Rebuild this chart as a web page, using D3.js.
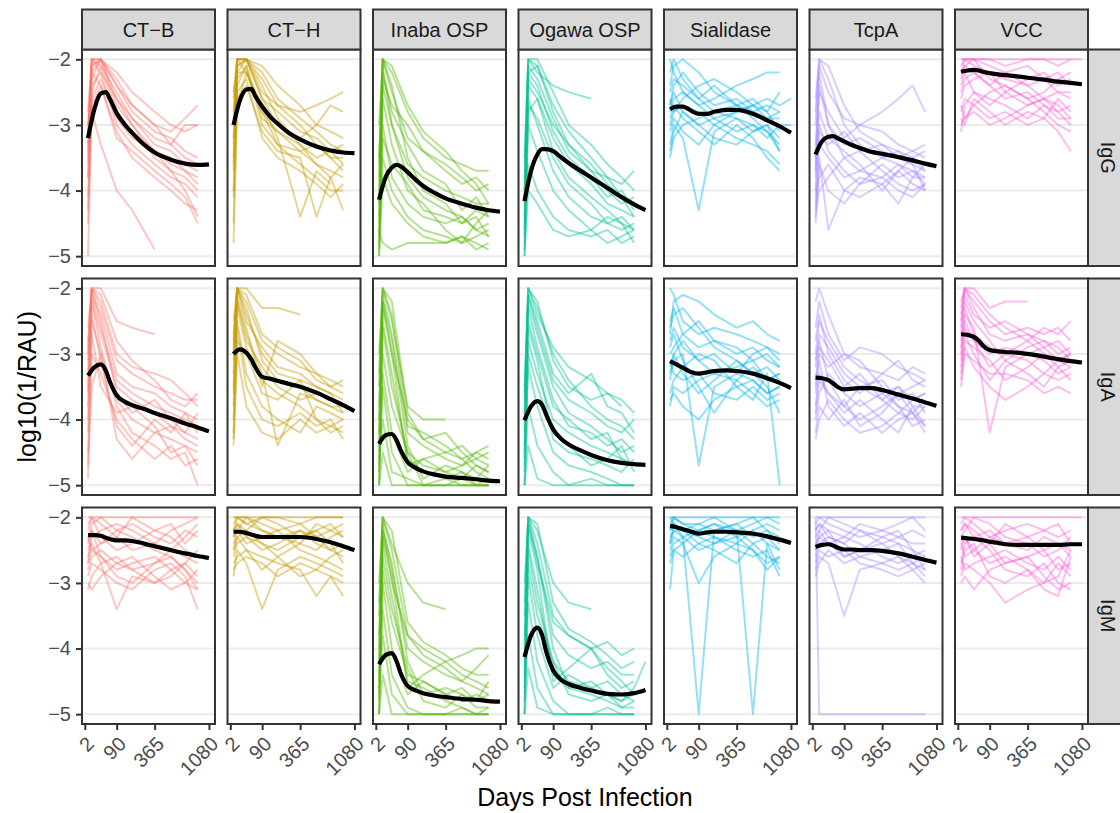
<!DOCTYPE html>
<html>
<head>
<meta charset="utf-8">
<script src="https://cdn.jsdelivr.net/npm/d3@7"></script>
<style>
  html, body { margin: 0; padding: 0; background: #fff; }
  svg { display: block; font-family: "Liberation Sans", Arial, Helvetica, sans-serif; }
</style>
</head>
<body>
<div id="chart"></div>
<script>
const ANTIGENS = ["CT\u2212B", "CT\u2212H", "Inaba OSP", "Ogawa OSP", "Sialidase", "TcpA", "VCC"];
const ISOTYPES = ["IgG", "IgA", "IgM"];
const COLORS = ["#F8766D", "#C49A00", "#53B400", "#00C094", "#00B6EB", "#A58AFF", "#FB61D7"];
const LINE_DAYS = [5, 10, 30, 90, 180, 365, 540, 720, 900, 1080];
const SMOOTH_DAYS = [5, 15, 30, 45, 60, 90, 135, 180, 270, 365, 540, 720, 900, 1080];
const X_BREAKS = [2, 90, 365, 1080];
const Y_BREAKS = [-2, -3, -4, -5];

// individual trajectories: one row per participant, visits at LINE_DAYS
// values stored as -10 * log10(1/RAU), 0 = missing visit
const iggCTB = [[32,22,20,24,27,30,31,29,27],[38,23,20,26,29,32,33,30,30],[45,25,21,28,31,34,35,37,38],[30,20,20,23,27,30,33,35,36],[41,24,22,30,33,36,38,39,41],[35,21,20,27,30,35,37,40,44],[50,26,23,29,32,34,36,37,39],[33,20,21,25,29,33,34,36,37],[38,28,33,40,43,49],[28,20,22,26,30,34,37,38,40],[36,22,24,31,35,38,40,42,43],[31,21,20,24,28,31,32,34,35],[43,27,24,32,34,37,39,41,45],[34,20,20,22,25,28,30,31,30]];
const iggCTH = [[30,20,20,25,27,28,27,26,25],[35,22,20,26,30,32,30,27,28],[48,27,22,28,31,33,35,34,33],[25,20,20,22,26,29,31,33,34],[40,24,21,30,33,36,38,40,40],[32,20,22,27,32,44,37,39],[28,20,20,24,29,33,36,38,43],[41,26,24,31,34,35,44,38,36],[33,21,20,23,27,30,33,35,37],[37,23,21,29,31,34,33,35,35],[26,20,20,21,24,27,30,31,32],[45,25,23,32,35,37,39,41,39],[30,21,20,26,28,31,32,34,36],[36,22,22,28,33,34,36,37,38]];
const iggInaba = [[35,20,22,28,32,35,36,37,37],[45,20,25,32,34,36,38,40,39],[50,24,30,36,38,40,41,42,42],[40,22,28,33,37,39,43,41,44],[48,30,38,42,44,45,44,46,45],[30,20,24,35,40,42,45,44,47],[50,38,42,45,47,48,47,49,48],[42,26,33,40,42,46,48,45,43],[46,48,49,48,48,48,47,48,49],[38,21,30,38,41,43,44,46,47],[49,35,40,44,46,47,48,47,46],[44,23,27,30,34,37,39,38,40],[47,32,36,39,43,44,45,43,44],[36,20,21,27,31,34,37,39,42]];
const iggOgawa = [[40,20,20,25,30,33,36,38,40],[48,22,21,28,33,36,39,41,42],[50,28,26,34,38,41,43,45,46],[35,20,22,24,25,26],[45,26,30,37,41,44,45,44,46],[42,24,26,32,36,39,42,43,44],[50,36,40,44,46,47,46,48,47],[38,21,23,29,34,37,40,42,41],[47,30,34,40,43,46,44,45,48],[44,22,24,31,35,38,41,40,43],[49,40,42,46,47,46,48,47,46],[36,20,21,27,31,35,38,39,37],[46,27,29,35,39,42,45,46,45],[41,23,25,30,33,37,38,41,44]];
const iggSialidase = [[20,22,25,27,26,24,23,22,22],[27,25,28,30,29,28,27,26,27,26],[30,28,27,28,30,32,33,34,36],[24,21,20,22,25,27,26,28,25],[33,30,32,43,31,29,30,31,33],[28,26,25,27,29,31,30,32,30,30],[35,32,30,29,28,27,29,31,34],[22,20,23,26,24,27,28,29,29],[29,27,29,31,33,30,32,35,37],[26,28,26,24,23,25,27,28,31],[31,29,31,33,30,28,27,29,28],[25,23,24,26,28,29,31,30,32],[34,31,28,30,32,33,31,30,34],[27,24,22,25,27,26,28,27,28]];
const iggTcpA = [[30,20,23,30,33,35,36,37,38],[38,22,30,33,32,34,35,36,37],[45,35,46,40,38,39,37,39,40],[26,20,21,27,31,33,34,35,34],[40,30,34,37,39,36,38,37,39],[35,25,28,32,30,28,26,24,28],[42,38,36,40,41,39,42,38,38],[33,24,30,35,37,38,36,38,36],[44,40,38,35,34,37,39,40,39],[36,28,32,34,36,40,37,35,37],[28,21,25,29,30,31,33,34,35],[41,33,35,38,37,35,34,36,40],[37,31,33,31,34,33,35,34,33],[43,36,40,42,39,38,40,41,39]];
const iggVCC = [[20,20,20,20,20,20,20,20,20,20],[22,20,21,22,23,24,23,25,26],[25,23,22,24,26,25,27,28,27],[28,26,27,25,24,26,28,30,31],[30,29,27,29,28,30,29,31,34],[21,20,20,21,22,21,23,22,24],[24,22,25,27,25,23,22,24,23],[27,29,28,30,29,27,26,27,29],[23,21,20,23,24,26,25,23,22],[29,30,26,28,30,28,29,26,28],[20,20,20,20,21,20,20,21,20],[26,24,23,22,25,27,26,28,30],[22,21,22,24,22,24,26,25,25],[31,27,25,26,27,29,27,29,29]];

const igaCTB = [[30,20,20,25,26,27],[35,21,26,34,36,38,39,40,41],[49,25,30,37,40,42,43,44,47],[28,20,23,31,33,35,36,37,37],[40,22,29,38,42,44,46,45,50],[33,20,25,36,39,37,40,42,43],[45,30,33,40,43,46,44,47,46],[26,20,22,30,32,33,34,36,38],[38,24,31,41,44,40,42,39,42],[42,27,35,39,38,41,45,44,45],[31,21,24,33,35,36,38,39,40],[47,35,30,43,46,42,41,43,44],[36,22,27,35,37,39,41,42,39],[29,20,21,28,31,34,37,38,36]];
const igaCTH = [[25,20,20,23,23,24],[30,20,24,30,33,34,35,36,37],[38,22,27,33,44,36,37,38,39],[43,28,30,36,37,34,40,41,42],[27,20,22,28,30,32,33,34,35],[33,21,26,35,28,30,33,35,36],[40,25,33,38,40,42,38,39,40],[29,20,23,31,34,35,37,38,38],[36,23,29,34,36,38,40,42,41],[42,26,35,40,41,39,41,40,43],[31,20,21,27,29,31,34,35,34],[35,22,28,32,35,37,36,37,38],[44,30,38,42,43,40,42,41,40],[28,20,25,29,32,33,35,36,39]];
const igaInaba = [[30,20,25,38,40,40],[45,22,30,40,43,45,46,45,44],[50,30,38,45,47,48,49,47,48],[40,21,27,42,44,46,47,46,47],[48,35,45,50,50,50,49,50,50],[50,25,33,46,48,49,50,50,50],[35,20,24,41,42,44,46,48,49],[46,40,48,49,50,50,50,50,50],[42,23,30,47,46,45,44,46,45],[50,45,50,50,50,50,50,50,50],[38,22,28,44,49,47,48,49,47],[47,33,42,48,46,48,47,45,46],[44,26,35,45,50,49,48,50,49],[33,20,22,39,43,42,45,47,48]];
const igaOgawa = [[35,20,24,29,32,34,36,37,39],[45,21,26,34,37,39,41,42,40],[50,28,33,40,42,44,45,46,47],[40,20,22,31,35,37,36,38],[48,32,38,45,47,48,49,50,50],[42,23,29,37,41,42,44,43,45],[50,38,44,48,50,50,50,50,50],[37,21,25,33,36,33,38,39,42],[46,26,31,43,45,46,47,48,46],[50,44,49,50,50,49,50,50,50],[39,22,27,35,39,41,43,45,44],[47,30,35,42,44,47,46,44,48],[44,25,30,38,40,43,42,46,47],[36,20,23,30,34,38,40,41,43]];
const igaSialidase = [[20,21,25,27,26,27,28,29,30],[28,26,29,31,33,32,31,34,33],[33,31,30,47,35,33,34,36,35],[25,23,27,29,28,30,29,31,32],[36,34,32,30,31,35,37,33,50],[30,29,27,25,28,29,31,30,32],[38,35,36,34,33,34,36,38,37],[27,22,21,22,24,26,25,27,28],[31,33,34,33,36,37,35,37,36],[34,30,33,36,34,31,33,35,39],[29,27,31,35,39,34,32,34,33],[26,24,23,26,29,31,33,32,34],[32,30,28,31,30,33,30,29,31],[37,36,38,40,37,35,34,36,35]];
const igaTcpA = [[22,20,24,30,32,33,31,34,35],[30,25,28,32,34,36,35,37,36],[38,33,36,39,37,40,42,38,41],[26,22,27,31,29,30,32,33,34],[42,38,40,37,41,39,36,39,42],[34,29,31,35,33,37,39,40,38],[40,36,33,36,38,36,38,41,40],[28,24,30,34,36,33,34,32,33],[36,31,38,41,39,42,40,39,37],[32,27,29,33,35,34,37,36,39],[43,40,37,40,42,41,39,37,36],[31,28,34,38,40,38,36,35,34],[35,30,32,30,31,35,38,39,41],[39,34,36,38,35,37,35,38,38]];
const igaVCC = [[22,20,20,23,22,22],[26,20,23,27,28,27,29,28,30],[30,24,26,42,32,30,31,33,32],[25,21,24,26,25,27,28,29,31],[33,28,29,31,34,32,30,32,34],[28,23,27,29,30,31,33,34,33],[35,30,31,33,33,34,36,35,36],[24,20,22,25,27,26,27,26,28],[29,26,28,30,29,30,29,31,30],[32,27,30,34,31,33,35,32,31],[27,22,25,28,31,29,28,30,29],[31,25,28,32,30,28,26,27,25],[23,20,21,24,26,28,30,31,32],[34,29,32,35,37,35,33,31,30]];

const igmCTB = [[20,20,20,20,20,20,20,20,20],[23,22,24,22,23,25,26,28,30],[27,25,26,28,27,26,28,27,29],[31,29,27,34,29,30,28,30,31],[22,20,21,23,25,24,22,21,20],[25,23,22,21,22,24,25,26,27],[29,27,28,30,31,28,27,29,34],[21,20,23,25,24,22,23,25,26],[26,24,27,26,28,30,29,27,25],[24,21,20,22,21,23,24,22,23],[28,26,25,27,26,29,31,30,28],[30,31,29,27,28,27,26,28,31],[23,25,24,23,20,22,21,24,22],[27,22,26,29,30,27,25,23,21]];
const igmCTH = [[20,20,20,20,20,20,20,20,20],[22,20,21,22,23,22,24,25,26],[25,23,22,24,25,23,22,24,27],[29,25,27,34,28,26,27,28,29],[21,20,20,21,22,21,23,22,21],[24,22,24,23,22,25,26,27,28],[27,26,25,26,27,28,32,29,30],[23,21,22,20,21,23,22,21,23],[26,24,23,25,24,22,23,25,24],[22,21,23,24,26,24,25,23,22],[28,27,26,27,29,27,28,29,32],[20,20,21,20,20,21,20,20,20],[25,23,25,28,26,29,28,26,25],[23,22,20,22,23,24,21,22,23]];
const igmInaba = [[30,20,24,30,33,34],[45,22,30,38,40,42,41,40,40],[50,28,36,44,45,47,46,48,47],[40,21,28,40,42,44,45,43,41],[48,34,44,49,50,50,49,50,50],[50,24,32,45,46,48,49,50,49],[35,20,25,38,41,43,45,46,47],[46,38,47,50,50,50,50,50,50],[42,23,29,46,44,42,44,45,46],[50,44,50,50,50,50,50,50,50],[38,22,27,42,47,46,47,48,45],[47,30,40,47,45,47,48,47,48],[44,26,34,43,48,49,47,49,49],[33,20,22,36,39,41,43,44,44]];
const igmOgawa = [[30,20,22,30,33,34],[45,21,27,36,38,40,39,41,40],[50,27,35,42,45,46,47,48,46,42],[40,20,26,38,41,43,42,44,44],[48,33,42,48,50,50,49,50,50],[50,24,31,44,46,47,48,49,49],[35,20,24,35,38,40,43,45,47],[46,38,46,50,50,50,50,50,50],[42,22,28,45,43,40,44,46,45],[50,43,49,50,50,50,50,50,50],[38,21,26,40,46,45,47,48,47],[47,29,38,46,44,46,45,47,48],[44,25,33,42,47,48,47,49,48],[33,20,21,33,37,39,41,43,42]];
const igmSialidase = [[20,20,20,20,20,20,20,20,20],[22,21,23,22,21,23,22,24,25],[24,22,23,50,22,21,23,22,24],[26,24,23,25,24,22,50,24,28],[21,20,21,22,23,24,22,21,22],[31,25,24,30,26,24,25,27,26],[23,22,22,24,23,25,26,25,29],[25,23,24,22,21,22,24,26,27],[22,20,21,21,22,21,20,22,23],[27,25,26,24,25,27,24,23,25],[24,21,22,23,24,23,25,28,26],[20,21,22,21,20,22,21,20,21]];
const igmTcpA = [[20,20,20,20,20,20,20,20,20],[22,21,23,24,22,23,24,25,26],[25,23,22,26,25,24,26,27,28],[28,26,27,35,28,27,26,28,30],[21,20,21,22,23,22,21,20,22],[24,23,24,23,24,26,27,26,25],[27,25,26,25,27,28,29,28,27],[23,22,20,21,22,24,23,22,23],[26,24,23,24,26,25,24,27,29],[20,50,50,50,50,50,50,50,50],[29,27,25,27,26,27,28,27,26],[22,21,22,23,21,22,23,24,24],[25,22,24,26,25,23,22,25,28]];
const igmVCC = [[20,20,20,20,20,20,20,20,20,20],[22,21,23,22,24,23,25,24,26],[25,23,26,24,27,26,25,28,27],[29,27,28,30,33,31,30,29,25],[21,20,21,23,22,21,22,23,22],[24,26,25,27,26,28,30,27,29],[27,24,23,25,28,29,27,30,31],[23,22,20,21,23,24,26,25,23],[26,28,27,26,25,27,28,26,28],[30,29,31,28,27,26,29,31,30],[22,21,22,24,21,23,22,21,24],[28,25,24,29,30,28,31,32,26],[24,23,25,23,24,25,23,24,25]];

// loess fits at SMOOTH_DAYS, one row per antigen (same order as ANTIGENS)
const smoothIgG = [
  [-3.2,-2.75,-2.52,-2.5,-2.6,-2.82,-3.0,-3.12,-3.3,-3.42,-3.53,-3.59,-3.61,-3.6],
  [-3.0,-2.62,-2.46,-2.45,-2.56,-2.72,-2.88,-2.98,-3.13,-3.22,-3.33,-3.39,-3.42,-3.43],
  [-4.14,-3.8,-3.65,-3.61,-3.63,-3.72,-3.84,-3.93,-4.04,-4.12,-4.2,-4.26,-4.3,-4.32],
  [-4.16,-3.7,-3.45,-3.37,-3.37,-3.4,-3.5,-3.58,-3.7,-3.8,-3.96,-4.1,-4.21,-4.3],
  [-2.76,-2.72,-2.72,-2.75,-2.79,-2.83,-2.83,-2.8,-2.77,-2.77,-2.83,-2.93,-3.02,-3.12],
  [-3.45,-3.25,-3.18,-3.17,-3.2,-3.25,-3.31,-3.35,-3.41,-3.44,-3.49,-3.54,-3.59,-3.63],
  [-2.19,-2.17,-2.16,-2.17,-2.19,-2.21,-2.23,-2.24,-2.26,-2.28,-2.31,-2.34,-2.36,-2.38]
];
const smoothIgA = [
  [-3.33,-3.2,-3.16,-3.25,-3.42,-3.63,-3.73,-3.78,-3.84,-3.9,-3.98,-4.06,-4.12,-4.18],
  [-3.0,-2.93,-2.98,-3.08,-3.2,-3.35,-3.38,-3.41,-3.46,-3.5,-3.59,-3.69,-3.78,-3.87],
  [-4.37,-4.24,-4.22,-4.32,-4.47,-4.65,-4.74,-4.79,-4.84,-4.87,-4.89,-4.91,-4.93,-4.94],
  [-4.01,-3.8,-3.72,-3.78,-3.93,-4.15,-4.3,-4.38,-4.47,-4.54,-4.62,-4.66,-4.68,-4.69],
  [-3.11,-3.16,-3.21,-3.25,-3.28,-3.3,-3.28,-3.26,-3.25,-3.26,-3.3,-3.37,-3.44,-3.52],
  [-3.36,-3.37,-3.4,-3.45,-3.5,-3.54,-3.53,-3.52,-3.52,-3.55,-3.62,-3.68,-3.74,-3.79],
  [-2.7,-2.71,-2.74,-2.8,-2.87,-2.94,-2.96,-2.97,-2.98,-3.0,-3.04,-3.08,-3.11,-3.13]
];
const smoothIgM = [
  [-2.27,-2.27,-2.28,-2.31,-2.33,-2.35,-2.35,-2.36,-2.4,-2.44,-2.5,-2.55,-2.59,-2.62],
  [-2.22,-2.22,-2.24,-2.26,-2.28,-2.3,-2.3,-2.3,-2.3,-2.3,-2.33,-2.38,-2.44,-2.5],
  [-4.24,-4.1,-4.07,-4.2,-4.38,-4.57,-4.64,-4.68,-4.72,-4.74,-4.77,-4.78,-4.8,-4.81],
  [-4.13,-3.8,-3.68,-3.8,-4.05,-4.33,-4.48,-4.54,-4.6,-4.64,-4.69,-4.7,-4.68,-4.63],
  [-2.13,-2.15,-2.18,-2.2,-2.22,-2.25,-2.23,-2.22,-2.22,-2.23,-2.25,-2.29,-2.34,-2.39],
  [-2.45,-2.42,-2.41,-2.43,-2.46,-2.49,-2.49,-2.5,-2.5,-2.51,-2.55,-2.6,-2.65,-2.69],
  [-2.31,-2.32,-2.33,-2.34,-2.35,-2.37,-2.39,-2.41,-2.42,-2.42,-2.42,-2.42,-2.41,-2.41]
];

const panelLines = {
  IgG: [iggCTB, iggCTH, iggInaba, iggOgawa, iggSialidase, iggTcpA, iggVCC],
  IgA: [igaCTB, igaCTH, igaInaba, igaOgawa, igaSialidase, igaTcpA, igaVCC],
  IgM: [igmCTB, igmCTH, igmInaba, igmOgawa, igmSialidase, igmTcpA, igmVCC]
};
const panelSmooth = { IgG: smoothIgG, IgA: smoothIgA, IgM: smoothIgM };

// layout (ggplot facet_grid look)
const chartW = 1120, chartH = 813;
const gridLeft = 82, gridTop = 49.5;
const panelW = 133, panelH = 216.5, gap = 12.5, strip = 40;

// sqrt x axis with ggplot's 5% expansion done in transformed space
function expandSqrt(lo, hi, m) {
  const a = Math.sqrt(lo), b = Math.sqrt(hi), d = (b - a) * m;
  return [Math.pow(Math.max(0, a - d), 2), Math.pow(b + d, 2)];
}
const x = d3.scaleSqrt().domain(expandSqrt(5, 1080, 0.05)).range([0, panelW]);
const y = d3.scaleLinear().domain([-5.15, -1.85]).range([panelH, 0]);

const svg = d3.select("#chart").append("svg")
  .attr("width", chartW)
  .attr("height", chartH);

const defs = svg.append("defs");
defs.append("clipPath").attr("id", "panel-clip")
  .append("rect").attr("width", panelW).attr("height", panelH);

const indLine = d3.line().x(d => x(d.day)).y(d => y(d.val));
const fitLine = d3.line().x(d => x(d.day)).y(d => y(d.val)).curve(d3.curveMonotoneX);

ISOTYPES.forEach((iso, r) => {
  ANTIGENS.forEach((ag, c) => {
    const g = svg.append("g")
      .attr("transform", `translate(${gridLeft + c * (panelW + gap)},${gridTop + r * (panelH + gap)})`);

    g.append("rect").attr("width", panelW).attr("height", panelH).attr("fill", "#fff");

    // horizontal grid
    g.selectAll(".grid").data(Y_BREAKS).enter().append("line")
      .attr("x1", 0).attr("x2", panelW)
      .attr("y1", d => y(d)).attr("y2", d => y(d))
      .attr("stroke", "#EBEBEB").attr("stroke-width", 2);

    const plot = g.append("g").attr("clip-path", "url(#panel-clip)");

    // one thin line per participant
    panelLines[iso][c].forEach(row => {
      const pts = row.map((v, i) => v ? { day: LINE_DAYS[i], val: -v / 10 } : null).filter(Boolean);
      plot.append("path")
        .datum(pts)
        .attr("d", indLine)
        .attr("fill", "none")
        .attr("stroke", COLORS[c])
        .attr("stroke-opacity", 0.42)
        .attr("stroke-width", 2)
        .attr("stroke-linejoin", "round");
    });

    // loess fit
    const fit = panelSmooth[iso][c].map((v, i) => ({ day: SMOOTH_DAYS[i], val: v }));
    plot.append("path")
      .datum(fit)
      .attr("d", fitLine)
      .attr("fill", "none")
      .attr("stroke", "#000")
      .attr("stroke-width", 4.2)
      .attr("stroke-linejoin", "round");

    g.append("rect").attr("width", panelW).attr("height", panelH)
      .attr("fill", "none").attr("stroke", "#333333").attr("stroke-width", 2);

    // y axis only on first column
    if (c === 0) {
      const ya = g.append("g")
        .call(d3.axisLeft(y).tickValues(Y_BREAKS).tickSize(6).tickPadding(5).tickFormat(d3.format("d")));
      ya.select(".domain").remove();
      ya.selectAll("line").attr("stroke", "#333333").attr("stroke-width", 2);
      ya.selectAll("text").attr("fill", "#4D4D4D").style("font-size", "20px")
        .style("font-family", "'Liberation Sans', Arial, Helvetica, sans-serif");
    }

    // x axis only on bottom row
    if (r === ISOTYPES.length - 1) {
      const xa = g.append("g").attr("transform", `translate(0,${panelH})`)
        .call(d3.axisBottom(x).tickValues(X_BREAKS).tickSize(6).tickFormat(d3.format("d")));
      xa.select(".domain").remove();
      xa.selectAll("line").attr("stroke", "#333333").attr("stroke-width", 2);
      xa.selectAll("text")
        .attr("y", null).attr("dy", "0.72em")
        .attr("transform", "translate(0,11) rotate(-45)")
        .attr("text-anchor", "end")
        .attr("fill", "#4D4D4D").style("font-size", "20px")
        .style("font-family", "'Liberation Sans', Arial, Helvetica, sans-serif");
    }
  });
});

// column strips
ANTIGENS.forEach((ag, c) => {
  const sx = gridLeft + c * (panelW + gap);
  svg.append("rect")
    .attr("x", sx).attr("y", gridTop - strip)
    .attr("width", panelW).attr("height", strip)
    .attr("fill", "#D9D9D9").attr("stroke", "#333333").attr("stroke-width", 2);
  svg.append("text")
    .attr("x", sx + panelW / 2).attr("y", gridTop - strip / 2)
    .attr("text-anchor", "middle").attr("dominant-baseline", "central")
    .style("font-size", "20px").attr("fill", "#1A1A1A")
    .text(ag);
});

// row strips
const stripX = gridLeft + ANTIGENS.length * panelW + (ANTIGENS.length - 1) * gap;
ISOTYPES.forEach((iso, r) => {
  const sy = gridTop + r * (panelH + gap);
  svg.append("rect")
    .attr("x", stripX).attr("y", sy)
    .attr("width", strip).attr("height", panelH)
    .attr("fill", "#D9D9D9").attr("stroke", "#333333").attr("stroke-width", 2);
  svg.append("text")
    .attr("transform", `translate(${stripX + strip / 2},${sy + panelH / 2}) rotate(90)`)
    .attr("text-anchor", "middle").attr("dominant-baseline", "central")
    .style("font-size", "20px").attr("fill", "#1A1A1A")
    .text(iso);
});

// axis titles
const plotBottom = gridTop + ISOTYPES.length * panelH + (ISOTYPES.length - 1) * gap;
svg.append("text")
  .attr("x", gridLeft + (stripX - gridLeft) / 2).attr("y", 806)
  .attr("text-anchor", "middle")
  .style("font-size", "25px").attr("fill", "#000")
  .text("Days Post Infection");

svg.append("text")
  .attr("transform", `translate(36,${(gridTop + plotBottom) / 2}) rotate(-90)`)
  .attr("text-anchor", "middle")
  .style("font-size", "25px").attr("fill", "#000")
  .text("log10(1/RAU)");
</script>
</body>
</html>
